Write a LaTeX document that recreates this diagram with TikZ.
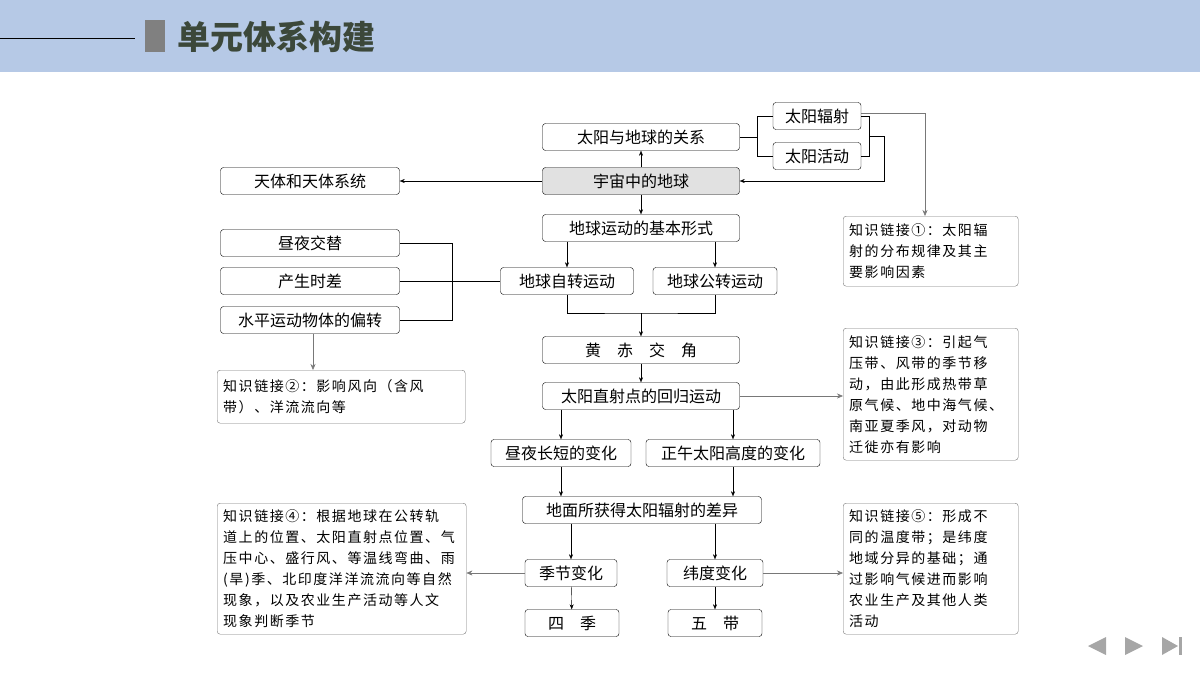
\documentclass[tikz,border=0pt]{standalone}
\usepackage{fontspec}
\setmainfont{Noto Sans CJK SC}
\newfontfamily\linkfont[LetterSpace=11]{Noto Sans CJK SC}
\usetikzlibrary{positioning,arrows.meta,calc}
\definecolor{headerbg}{RGB}{182,201,230}
\definecolor{titlegreen}{RGB}{60,72,58}
\definecolor{rootbg}{RGB}{225,225,225}
\definecolor{linkgray}{RGB}{120,120,120}

\begin{document}
\begin{tikzpicture}[x=1pt, y=-1pt,
    box/.style={draw, rounded corners=3pt, minimum height=27pt, inner sep=0pt, font=\fontsize{16}{18}\selectfont},
    link/.style={draw=linkgray, rounded corners=3pt, inner sep=6pt, align=left, anchor=north west, font=\linkfont\fontsize{14}{21}\selectfont},
    arr/.style={-{Stealth[length=5pt,width=4pt]}},
    garr/.style={draw=linkgray, -{Stealth[length=6pt,width=5pt]}},
]
    \useasboundingbox (0,0) rectangle (1200,675);
    % header
    \fill[headerbg] (0,0) rectangle (1200,72);
    \draw[thick] (0,38) -- (135,38);
    \fill[gray] (145,20) rectangle (165,52);
    \node[anchor=west, text=titlegreen, font=\fontsize{33}{36}\selectfont\bfseries] (title) at (174,37) {单元体系构建};

    % main nodes
    \node[box, minimum width=197pt] (rel) at (641,137) {太阳与地球的关系};
    \node[box, minimum width=88pt] (fs) at (817,116) {太阳辐射};
    \node[box, minimum width=88pt] (hd) at (817,156) {太阳活动};
    \node[box, minimum width=197pt, fill=rootbg] (earth) at (641,181) {宇宙中的地球};
    \node[box, minimum width=179pt] (tt) at (310,181) {天体和天体系统};
    \node[box, minimum width=197pt] (jb) at (641,228) {地球运动的基本形式};
    \node[box, minimum width=133pt] (zz) at (567,281) {地球自转运动};
    \node[box, minimum width=124pt] (gz) at (715,281) {地球公转运动};
    \node[box, minimum width=179pt] (zy) at (310,243) {昼夜交替};
    \node[box, minimum width=179pt] (sc) at (310,281) {产生时差};
    \node[box, minimum width=179pt] (py) at (310,320) {水平运动物体的偏转};
    \node[box, minimum width=197pt] (hc) at (641,350) {黄\quad 赤\quad 交\quad 角};
    \node[box, minimum width=197pt] (hg) at (641,396) {太阳直射点的回归运动};
    \node[box, minimum width=140pt] (zd) at (561,453) {昼夜长短的变化};
    \node[box, minimum width=174pt] (zw) at (733,453) {正午太阳高度的变化};
    \node[box, minimum width=239pt] (dm) at (642,510) {地面所获得太阳辐射的差异};
    \node[box, minimum width=92pt] (jj) at (571,573) {季节变化};
    \node[box, minimum width=96pt] (wd) at (715,573) {纬度变化};
    \node[box, minimum width=94pt] (sj) at (572,623) {四\quad 季};
    \node[box, minimum width=94pt] (wdai) at (715,623) {五\quad 带};

    % knowledge links
    \node[link, text width=163pt, minimum height=70pt] (k1) at (843,216) {知识链接①：太阳辐\\射的分布规律及其主\\要影响因素};
    \node[link, text width=236pt, minimum height=53pt] (k2) at (217,370) {知识链接②：影响风向（含风\\带）、洋流流向等};
    \node[link, text width=163pt, minimum height=132pt] (k3) at (843,328) {知识链接③：引起气\\压带、风带的季节移\\动，由此形成热带草\\原气候、地中海气候、\\南亚夏季风，对动物\\迁徙亦有影响};
    \node[link, text width=237pt, minimum height=131pt] (k4) at (217,503) {知识链接④：根据地球在公转轨\\道上的位置、太阳直射点位置、气\\压中心、盛行风、等温线弯曲、雨\\(旱)季、北印度洋洋流流向等自然\\现象，以及农业生产活动等人文\\现象判断季节};
    \node[link, text width=163pt, minimum height=131pt] (k5) at (843,503) {知识链接⑤：形成不\\同的温度带；是纬度\\地域分异的基础；通\\过影响气候进而影响\\农业生产及其他人类\\活动};

    % connectors
    \draw[arr] (earth) -- (rel);
    \draw[arr] (earth) -- (jb);
    \draw[arr] (earth) -- (tt);
    \draw (rel.east) -- (757,137);
    \draw (fs.west) -| (757,156) -- (hd.west);
    \draw (fs.east) -- (869,116) |- (hd.east);
    \draw[arr] (869,136) -- (884,136) |- (earth.east);
    \draw[garr] (861,113) -| (925,216);
    \draw[arr] (zz.north |- jb.south) -- (zz.north);
    \draw[arr] (gz.north |- jb.south) -- (gz.north);
    \draw (zy.east) -| (452,320) -- (py.east);
    \draw (sc.east) -- (zz.west);
    \draw[garr] (313,333.5) -- (313,370);
    \draw (zz.south) |- (641,313) -| (gz.south);
    \draw[arr] (641,313) -- (hc.north);
    \draw[arr] (hc) -- (hg);
    \draw[garr] (hg.east) -- (k3.west |- hg.east);
    \draw[arr] (zd.north |- hg.south) -- (zd.north);
    \draw[arr] (zw.north |- hg.south) -- (zw.north);
    \draw[arr] (zd.south) -- (zd.south |- dm.north);
    \draw[arr] (zw.south) -- (zw.south |- dm.north);
    \draw[arr] (jj.north |- dm.south) -- (jj.north);
    \draw[arr] (wd.north |- dm.south) -- (wd.north);
    \draw[garr] (jj.west) -- (k4.east |- jj.west);
    \draw[garr] (wd.east) -- (k5.west |- wd.east);
    \draw[arr] (jj) -- (sj);
    \draw[arr] (wd) -- (wdai);

    % navigation
    \fill[gray!70] (1088,646) -- (1106,637) -- (1106,655) -- cycle;
    \fill[gray!70] (1143,646) -- (1125,637) -- (1125,655) -- cycle;
    \fill[gray!70] (1178,646) -- (1162,637) -- (1162,655) -- cycle;
    \fill[gray!70] (1179,637) rectangle (1182,655);
\end{tikzpicture}
\end{document}
